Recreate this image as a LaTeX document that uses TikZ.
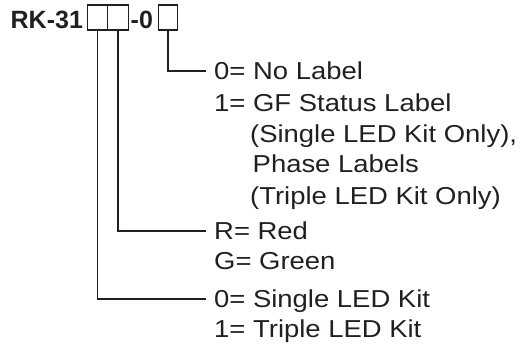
\documentclass[tikz,border=0pt]{standalone}
\usepackage{fontspec}
\setmainfont{Liberation Sans}[FakeStretch=1.12]
\newfontfamily\titlefont{Liberation Sans Bold}
\definecolor{ink}{HTML}{231F20}
\begin{document}
\begin{tikzpicture}[x=1pt,y=1pt,
  txt/.style={anchor=base west, inner sep=0pt, text=ink, text height=18pt, text depth=0pt,
    font=\fontsize{24.5pt}{30pt}\selectfont},
  ttl/.style={anchor=base west, inner sep=0pt, text=ink,
    font=\titlefont\fontsize{25pt}{30pt}\selectfont},
  digitbox/.style={draw=ink, line width=1.1pt, minimum height=25pt, inner sep=0pt},
  conn/.style={draw=ink, line width=1.5pt}]
\useasboundingbox (0,0) rectangle (525,-347);
% title
\node[ttl] (rk) at (10.5,-28.3) {RK-31};
\node[digitbox, minimum width=20pt] (b1) at (97.3,-17.5) {};
\node[digitbox, minimum width=21pt] (b2) at (117.8,-17.5) {};
\node[ttl] (dz) at (130.5,-28.3) {-0};
\node[digitbox, minimum width=19.5pt] (b3) at (168.1,-17.5) {};
% option texts
\node[txt] (t30) at (214,-80) {0= No Label};
\node[txt] (t31) at (214,-111.7) {1= GF Status Label};
\node[txt] (t32) at (250,-143) {(Single LED Kit Only),};
\node[txt] (t33) at (252.5,-173) {Phase Labels};
\node[txt] (t34) at (250,-205) {(Triple LED Kit Only)};
\node[txt] (tR) at (214,-240) {R= Red};
\node[txt] (tG) at (214,-270) {G= Green};
\node[txt] (tS) at (214,-308) {0= Single LED Kit};
\node[txt] (tT) at (214,-338) {1= Triple LED Kit};
% connectors
\draw[conn] (b3.south) |- ([xshift=-8pt]t30.west);
\draw[conn] (b2.south) |- ([xshift=-8pt]tR.west);
\draw[conn] (b1.south) |- ([xshift=-8pt]tS.west);
\end{tikzpicture}
\end{document}
